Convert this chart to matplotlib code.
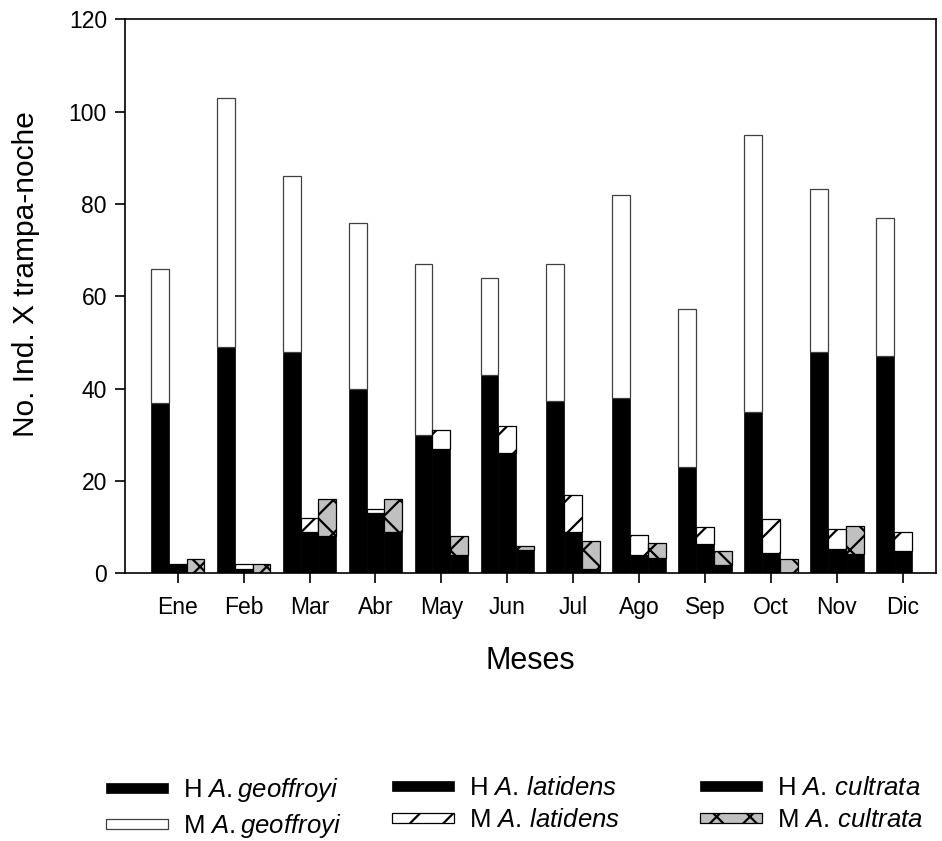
import matplotlib
matplotlib.use("Agg")
import matplotlib.pyplot as plt
import numpy as np

plt.rcParams['font.family'] = ['Liberation Sans', 'DejaVu Sans']
plt.rcParams['mathtext.fontset'] = 'custom'
plt.rcParams['mathtext.it'] = 'Liberation Sans:italic'
plt.rcParams['mathtext.rm'] = 'Liberation Sans'
plt.rcParams['hatch.linewidth'] = 1.6

# valores (No. ind. x trampa-noche)
months = ['Ene', 'Feb', 'Mar', 'Abr', 'May', 'Jun', 'Jul', 'Ago', 'Sep', 'Oct', 'Nov', 'Dic']
h_geo = [37, 49, 48, 40, 30, 43, 37.3, 38, 23, 35, 48, 47]
m_geo = [29, 54, 38, 36, 37, 21, 29.7, 44, 34.3, 60, 35.3, 30]
h_lat = [2, 1, 9, 13, 27, 26, 9, 4, 6.3, 4.4, 5.3, 4.8]
m_lat = [0, 1, 3, 1, 4, 6, 8, 4.4, 3.7, 7.4, 4.2, 4.2]
h_cul = [0, 0, 8, 9, 4, 5, 1, 3.4, 1.9, 0, 4.2, 0]
m_cul = [3, 2, 8, 7, 4, 1, 6, 3.1, 2.9, 3, 6, 0]

fig = plt.figure(figsize=(9.42, 8.41), dpi=100)
ax = fig.add_axes([0.1327, 0.3183, 0.8606, 0.6586])

x = np.arange(len(months))
w = 0.27

b1 = ax.bar(x - w, h_geo, w, color='black', edgecolor='black', linewidth=0.5)
b2 = ax.bar(x - w, m_geo, w, bottom=h_geo, color='white', edgecolor='#404040', linewidth=0.9)
b3 = ax.bar(x, h_lat, w, color='black', edgecolor='black', linewidth=0.5)
b4 = ax.bar(x, m_lat, w, bottom=h_lat, color='white', edgecolor='black', linewidth=0.9, hatch='/')
b5 = ax.bar(x + w, h_cul, w, color='black', edgecolor='black', linewidth=0.5)
b6 = ax.bar(x + w, m_cul, w, bottom=h_cul, color='#c0c0c0', edgecolor='black', linewidth=0.9, hatch='x')

ax.set_xlim(-0.8, 11.5)
ax.set_ylim(0, 120)
ax.set_yticks([0, 20, 40, 60, 80, 100, 120])
ax.set_xticks(x)
ax.set_xticklabels(months)
ax.tick_params(axis='both', direction='out', length=7, width=1.2, labelsize=16.5)
ax.tick_params(axis='x', pad=9)
ax.tick_params(axis='y', pad=6)
for s in ax.spines.values():
    s.set_linewidth(1.2)

ax.set_xlabel('Meses', fontsize=22, labelpad=20)
ax.set_ylabel('No. Ind. X trampa-noche', fontsize=21.5)
ax.yaxis.set_label_coords(-0.105, 0.54)

leg_kw = dict(loc='upper left', frameon=False, fontsize=18.5, handlelength=2.4,
              handleheight=0.22, handletextpad=0.6, labelspacing=0.3,
              borderpad=0, borderaxespad=0, bbox_transform=fig.transFigure)
fig.legend([b1, b2], [r'H $\mathit{A.geoffroyi}$', r'M $\mathit{A.geoffroyi}$'],
           bbox_to_anchor=(0.1125, 0.077), **leg_kw)
fig.legend([b3, b4], [r'H $\mathit{A.\,latidens}$', r'M $\mathit{A.\,latidens}$'],
           bbox_to_anchor=(0.4165, 0.077), **leg_kw)
fig.legend([b5, b6], [r'H $\mathit{A.\,cultrata}$', r'M $\mathit{A.\,cultrata}$'],
           bbox_to_anchor=(0.743, 0.077), **leg_kw)

fig.savefig('out.png', dpi=100)
